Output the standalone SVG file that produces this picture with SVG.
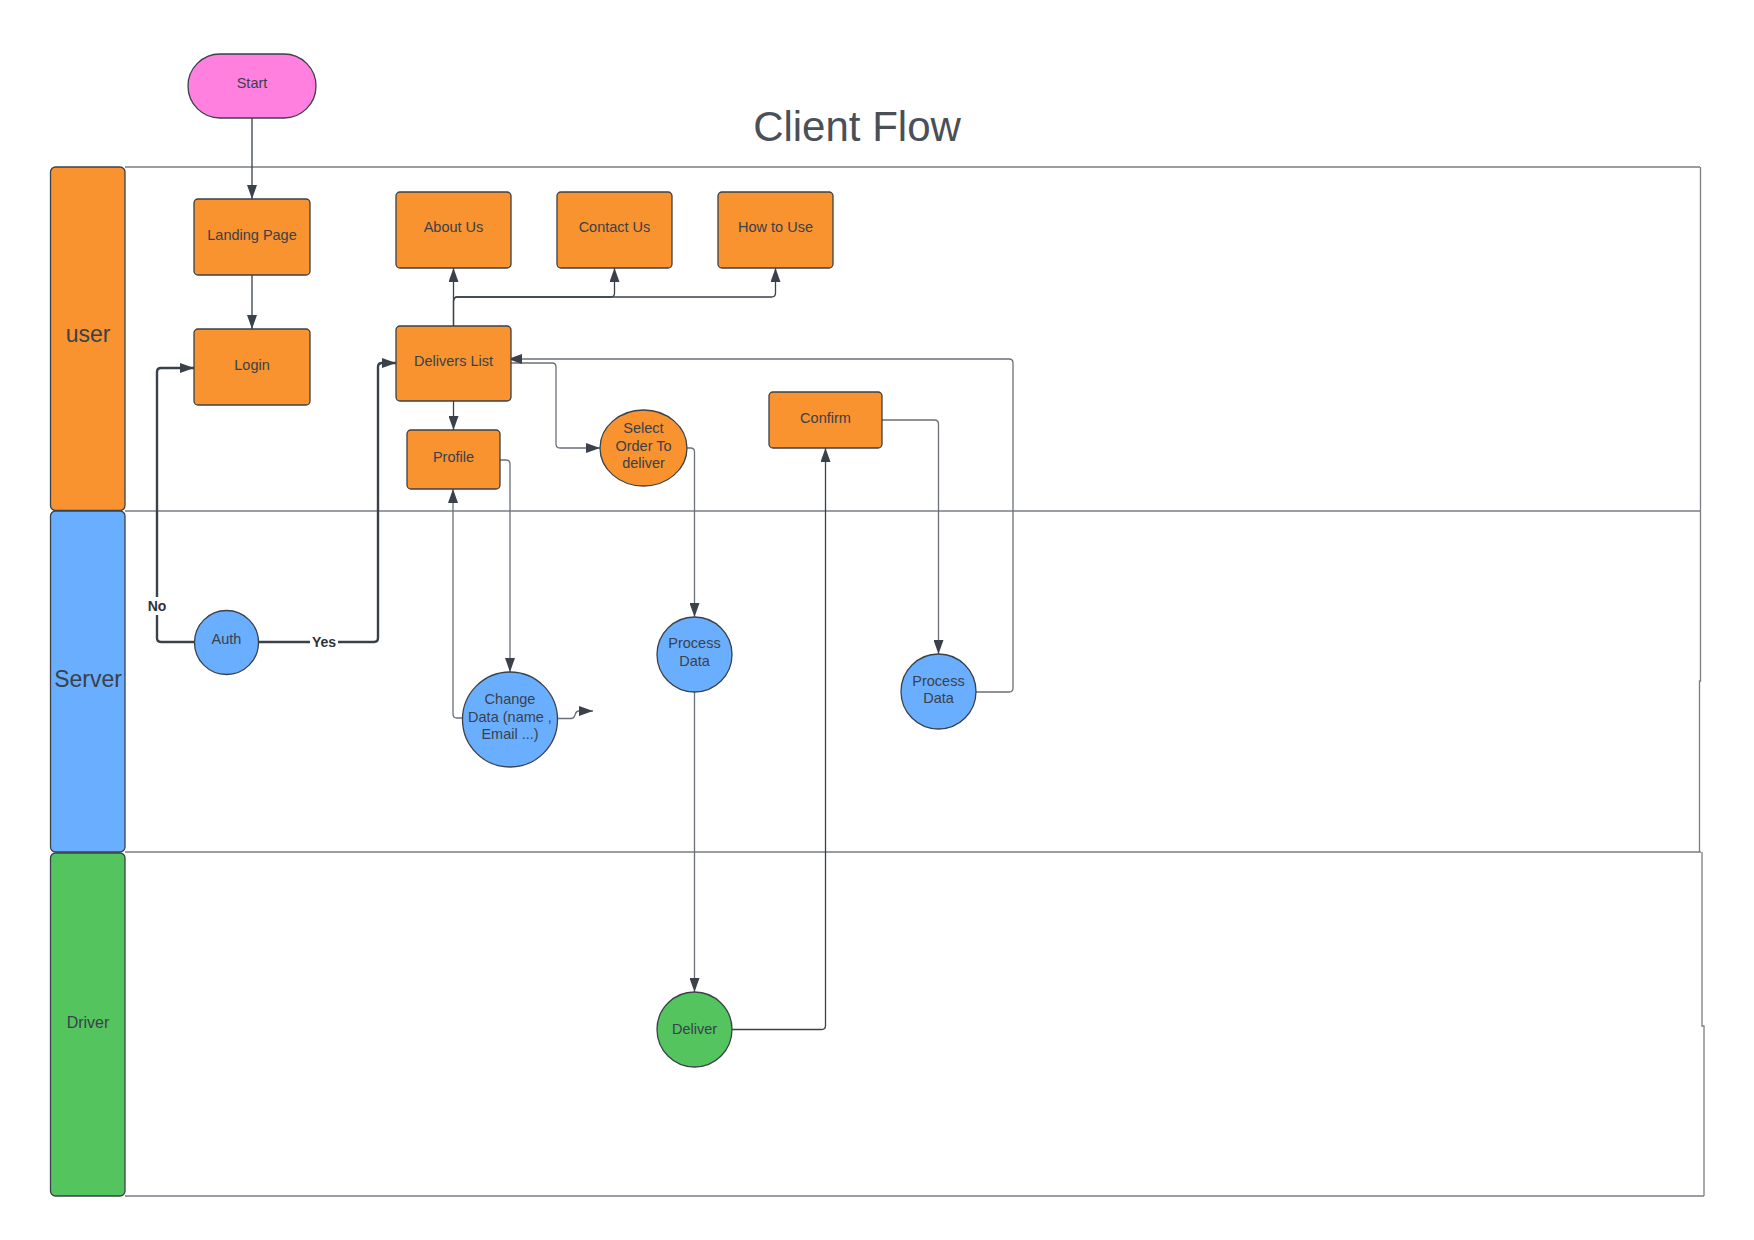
<svg xmlns="http://www.w3.org/2000/svg" width="1754" height="1240" viewBox="0 0 1754 1240">
<style>
.t{font-family:"Liberation Sans",Arial,sans-serif;font-size:14.5px;fill:#3A414A;text-anchor:middle}
.n{stroke:#3A414A;stroke-width:1.3}
.o{fill:#F8932F}
.b{fill:#6AAEFF}
.g{fill:#54C45E}
.c{fill:none;stroke:#3A414A;stroke-width:1.3}
.cg{fill:none;stroke:#6B7078;stroke-width:1.3}
.ct{fill:none;stroke:#3A414A;stroke-width:2.4}
.lane{fill:none;stroke:#7A7D83;stroke-width:1.3}
.lbl{font-family:"Liberation Sans",Arial,sans-serif;font-size:14px;font-weight:bold;fill:#2E333A;text-anchor:middle}
</style>
<defs>
<marker id="ah" viewBox="0 0 14 10" refX="14" refY="5" markerWidth="14" markerHeight="10" markerUnits="userSpaceOnUse" orient="auto">
<path d="M0,0 L14,5 L0,10 z" fill="#3A414A"/>
</marker>
</defs>
<rect width="1754" height="1240" fill="#ffffff"/>
<text x="857" y="141" font-family="Liberation Sans,Arial,sans-serif" font-size="42" fill="#4A4F58" text-anchor="middle">Client Flow</text>

<g id="lanes">
<path class="lane" d="M125 167 H1700 M125 511 H1700 M125 852 H1701 M125 1196 H1704"/>
<path class="lane" d="M1700.5 167 V681 H1699.5 V852 M1702 852 V1026 H1704 V1196" stroke="#3A414A"/>
<g id="lane-user"><rect x="50.5" y="167" width="74.5" height="343.5" rx="5" class="n o"/><text x="88" y="342" font-family="Liberation Sans,Arial,sans-serif" font-size="23" fill="#3A414A" text-anchor="middle">user</text></g>
<g id="lane-server"><rect x="50.5" y="511" width="74.5" height="341" rx="5" class="n b"/><text x="88" y="687" font-family="Liberation Sans,Arial,sans-serif" font-size="23" fill="#3A414A" text-anchor="middle">Server</text></g>
<g id="lane-driver"><rect x="50.5" y="853" width="74.5" height="343" rx="5" class="n g"/><text x="88" y="1028" font-family="Liberation Sans,Arial,sans-serif" font-size="16" fill="#3A414A" text-anchor="middle">Driver</text></g>
</g>

<g id="connectors">
<path class="c" d="M252 118 V199" marker-end="url(#ah)"/>
<path class="c" d="M252 275 V329" marker-end="url(#ah)"/>
<path class="c" d="M453.5 326 V268" marker-end="url(#ah)"/>
<path class="c" d="M453.5 326 V301 Q453.5 297 457.5 297 H610.5 Q614.5 297 614.5 293 V268" marker-end="url(#ah)"/>
<path class="c" d="M453.5 301 Q453.5 297 457.5 297 H771.5 Q775.5 297 775.5 293 V268" marker-end="url(#ah)"/>
<path class="c" d="M453.5 401 V430" marker-end="url(#ah)"/>
<path class="cg" d="M511 363 H552 Q556 363 556 367 V444 Q556 448 560 448 H600" marker-end="url(#ah)"/>
<path class="cg" d="M500 460 H506 Q510 460 510 464 V672" marker-end="url(#ah)"/>
<path class="cg" d="M463 718 H457 Q453 718 453 714 V489" marker-end="url(#ah)"/>
<path class="cg" d="M557 718.5 H571 Q574 718.5 575 715 Q576 711 579 711 H593" marker-end="url(#ah)"/>
<path class="ct" d="M195 642 H161 Q157 642 157 638 V372 Q157 368 161 368 H194" marker-end="url(#ah)"/>
<path class="ct" d="M258 642 H374 Q378 642 378 638 V367 Q378 363 382 363 H396" marker-end="url(#ah)"/>
<path class="cg" d="M687 448 H690.5 Q694.5 448 694.5 452 V617" marker-end="url(#ah)"/>
<path class="cg" d="M694.5 692 V992" marker-end="url(#ah)"/>
<path class="c" d="M731.5 1029.5 H821.5 Q825.5 1029.5 825.5 1025.5 V448" marker-end="url(#ah)"/>
<path class="cg" d="M882 420 H934.5 Q938.5 420 938.5 424 V654" marker-end="url(#ah)"/>
<path class="cg" d="M976 692 H1009 Q1013 692 1013 688 V363 Q1013 359 1009 359 H508" marker-end="url(#ah)"/>
<rect x="146" y="597" width="22" height="18" fill="#ffffff"/>
<text class="lbl" x="157" y="611">No</text>
<rect x="310" y="634" width="28" height="16" fill="#ffffff"/>
<text class="lbl" x="324" y="647">Yes</text>
</g>

<g id="start"><rect x="188" y="54" width="128" height="64" rx="32" class="n" fill="#FF80DF"/><text class="t" x="252" y="88">Start</text></g>
<g id="landing"><rect x="194" y="199" width="116" height="76" rx="4" class="n o"/><text class="t" x="252" y="239.5">Landing Page</text></g>
<g id="login"><rect x="194" y="329" width="116" height="76" rx="4" class="n o"/><text class="t" x="252" y="369.5">Login</text></g>
<g id="about"><rect x="396" y="192" width="115" height="76" rx="4" class="n o"/><text class="t" x="453.5" y="232">About Us</text></g>
<g id="contact"><rect x="557" y="192" width="115" height="76" rx="4" class="n o"/><text class="t" x="614.5" y="232">Contact Us</text></g>
<g id="howto"><rect x="718" y="192" width="115" height="76" rx="4" class="n o"/><text class="t" x="775.5" y="232">How to Use</text></g>
<g id="delivers"><rect x="396" y="326" width="115" height="75" rx="4" class="n o"/><text class="t" x="453.5" y="366">Delivers List</text></g>
<g id="profile"><rect x="407" y="430" width="93" height="59" rx="4" class="n o"/><text class="t" x="453.5" y="462">Profile</text></g>
<g id="select"><ellipse cx="643.5" cy="448" rx="43.5" ry="38" class="n o"/><text class="t" x="643.5" y="433">Select</text><text class="t" x="643.5" y="451">Order To</text><text class="t" x="643.5" y="468">deliver</text></g>
<g id="confirm"><rect x="769" y="392" width="113" height="56" rx="4" class="n o"/><text class="t" x="825.5" y="423">Confirm</text></g>
<g id="auth"><circle cx="226.5" cy="642.5" r="32" class="n b"/><text class="t" x="226.5" y="644">Auth</text></g>
<g id="change"><circle cx="510" cy="719.5" r="47.5" class="n b"/><text class="t" x="510" y="704">Change</text><text class="t" x="510" y="722">Data (name ,</text><text class="t" x="510" y="739">Email ...)</text></g>
<g id="process1"><circle cx="694.5" cy="654.5" r="37.5" class="n b"/><text class="t" x="694.5" y="648">Process</text><text class="t" x="694.5" y="666">Data</text></g>
<g id="process2"><circle cx="938.5" cy="691.5" r="37.5" class="n b"/><text class="t" x="938.5" y="686">Process</text><text class="t" x="938.5" y="703">Data</text></g>
<g id="deliver"><circle cx="694.5" cy="1029.5" r="37.5" class="n g"/><text class="t" x="694.5" y="1034">Deliver</text></g>
</svg>
